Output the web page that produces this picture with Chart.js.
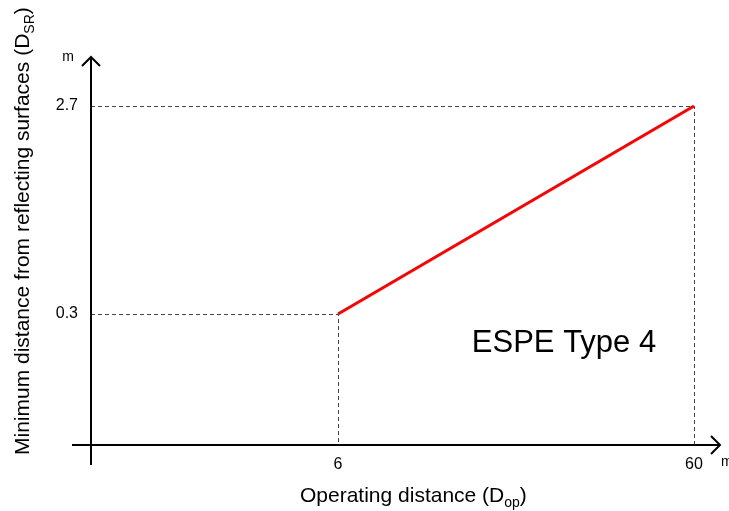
<!DOCTYPE html>
<html lang="en">
<head>
    <meta charset="UTF-8" />
    <title>ESPE Type 4 - minimum distance from reflecting surfaces</title>
    <script src="https://cdn.jsdelivr.net/npm/chart.js"></script>
    <style>
        html, body { margin: 0; padding: 0; background: #fff; }
        #wrap { width: 729px; height: 511px; position: relative; }
    </style>
</head>
<body>
    <div id="wrap"><canvas id="chart"></canvas></div>

    <script>
        // Chart data
        const opDistance = [6, 60];        // operating distance D_op (m)
        const minDistance = [0.3, 2.7];    // min. distance from reflecting surfaces D_SR (m)
        const xTickValues = [6, 60];
        const yTickValues = [0.3, 2.7];
        const curveLabel = 'ESPE Type 4';

        // The drawing is schematic (not to scale): each axis is piecewise linear.
        // [value, fraction of axis length]
        const xStops = [[0, 0], [6, 0.3927], [60, 0.9587], [64, 1]];
        const yStops = [[0, 0], [0.3, 0.3376], [2.7, 0.8737], [3, 1]];

        function toFrac(v, stops) {
            for (let i = 1; i < stops.length; i++) {
                const [v0, f0] = stops[i - 1], [v1, f1] = stops[i];
                if (v <= v1 || i === stops.length - 1) return f0 + (v - v0) / (v1 - v0) * (f1 - f0);
            }
        }
        function fromFrac(f, stops) {
            for (let i = 1; i < stops.length; i++) {
                const [v0, f0] = stops[i - 1], [v1, f1] = stops[i];
                if (f <= f1 || i === stops.length - 1) return v0 + (f - f0) / (f1 - f0) * (v1 - v0);
            }
        }
        const stopsFor = { x: xStops, y: yStops };

        class SchematicScale extends Chart.LinearScale {
            getPixelForValue(v) {
                return v === null ? NaN : this.getPixelForDecimal(toFrac(v, stopsFor[this.id]));
            }
            getValueForPixel(p) {
                return fromFrac(this.getDecimalForPixel(p), stopsFor[this.id]);
            }
        }
        SchematicScale.id = 'schematic';
        SchematicScale.defaults = Chart.LinearScale.defaults;
        Chart.register(SchematicScale);

        const FONT = '"Liberation Sans", Arial, sans-serif';

        // text with a subscript part, e.g. D + "op"
        function subText(ctx, parts, size) {
            let w = 0;
            parts.forEach(([t, sub]) => {
                ctx.font = (sub ? Math.round(size * 0.68) : size) + 'px ' + FONT;
                w += ctx.measureText(t).width;
            });
            return w;
        }
        function drawSub(ctx, parts, size, x, y) {
            let cx = x;
            parts.forEach(([t, sub]) => {
                ctx.font = (sub ? Math.round(size * 0.68) : size) + 'px ' + FONT;
                ctx.fillText(t, cx, sub ? y + size * 0.22 : y);
                cx += ctx.measureText(t).width;
            });
        }

        function arrow(ctx, x, y, dir) {
            ctx.beginPath();
            if (dir === 'up') {
                ctx.moveTo(x - 9, y + 9); ctx.lineTo(x, y); ctx.lineTo(x + 9, y + 9);
            } else {
                ctx.moveTo(x - 9, y - 9); ctx.lineTo(x, y); ctx.lineTo(x - 9, y + 9);
            }
            ctx.stroke();
        }

        const diagramPlugin = {
            id: 'diagram',
            beforeDatasetsDraw(chart) {
                const { ctx, chartArea: a, scales: { x, y } } = chart;
                const x0 = x.getPixelForValue(0), y0 = y.getPixelForValue(0);
                ctx.save();
                // dashed guides from every point to both axes
                ctx.strokeStyle = '#444';
                ctx.lineWidth = 1;
                ctx.setLineDash([4, 3]);
                opDistance.forEach((v, i) => {
                    const px = Math.round(x.getPixelForValue(v)) + 0.5;
                    const py = Math.round(y.getPixelForValue(minDistance[i])) + 0.5;
                    ctx.beginPath();
                    ctx.moveTo(x0, py); ctx.lineTo(px, py); ctx.lineTo(px, y0);
                    ctx.stroke();
                });
                ctx.setLineDash([]);
                // axes with open arrow heads
                ctx.strokeStyle = '#000';
                ctx.lineWidth = 2;
                ctx.beginPath();
                ctx.moveTo(x0 - 19, y0); ctx.lineTo(a.right, y0);
                ctx.moveTo(x0, y0 + 20); ctx.lineTo(x0, a.top);
                ctx.stroke();
                arrow(ctx, x0, a.top, 'up');
                arrow(ctx, a.right, y0, 'right');
                ctx.restore();
            },
            afterDraw(chart) {
                const { ctx, chartArea: a, scales: { x, y } } = chart;
                const x0 = x.getPixelForValue(0), y0 = y.getPixelForValue(0);
                ctx.save();
                ctx.fillStyle = '#000';
                ctx.textBaseline = 'alphabetic';
                // units
                ctx.font = '14px ' + FONT;
                ctx.textAlign = 'center';
                ctx.fillText('m', x0 - 23, a.top + 4);
                ctx.textAlign = 'left';
                ctx.fillText('m', a.right + 1, y0 + 21);
                // x title
                const xParts = [['Operating distance (D', false], ['op', true], [')', false]];
                const xw = subText(ctx, xParts, 21);
                drawSub(ctx, xParts, 21, 300, 502);
                // y title, rotated
                const yParts = [['Minimum distance from reflecting surfaces (D', false], ['SR', true], [')', false]];
                ctx.translate(29, 455);
                ctx.rotate(-Math.PI / 2);
                drawSub(ctx, yParts, 21, 0, 0);
                ctx.restore();
                // curve label
                ctx.save();
                ctx.font = '31px ' + FONT;
                ctx.textAlign = 'center';
                ctx.fillStyle = '#000';
                ctx.fillText(curveLabel, 564, 352);
                ctx.restore();
            }
        };

        new Chart(document.getElementById('chart'), {
            type: 'line',
            data: {
                datasets: [{
                    label: curveLabel,
                    data: opDistance.map((v, i) => ({ x: v, y: minDistance[i] })),
                    borderColor: '#ff0000',
                    borderWidth: 3,
                    pointRadius: 0,
                    fill: false,
                    tension: 0
                }]
            },
            options: {
                responsive: true,
                maintainAspectRatio: false,
                animation: false,
                layout: { padding: { left: 0, right: 9, top: 57, bottom: 0 } },
                plugins: { legend: { display: false }, tooltip: { enabled: false } },
                scales: {
                    x: {
                        type: 'schematic',
                        min: 0, max: 64,
                        grid: { display: false, drawTicks: false },
                        border: { display: false },
                        afterBuildTicks: s => { s.ticks = xTickValues.map(v => ({ value: v })); },
                        afterFit: s => { s.height = 66; },
                        ticks: {
                            padding: 10,
                            color: '#000',
                            autoSkip: false,
                            maxRotation: 0,
                            font: { family: FONT, size: 16 },
                            callback: v => String(v)
                        }
                    },
                    y: {
                        type: 'schematic',
                        min: 0, max: 3,
                        grid: { display: false, drawTicks: false },
                        border: { display: false },
                        afterBuildTicks: s => { s.ticks = yTickValues.map(v => ({ value: v })); },
                        afterFit: s => { s.width = 91; },
                        ticks: {
                            padding: 13,
                            color: '#000',
                            autoSkip: false,
                            font: { family: FONT, size: 16 },
                            callback: v => String(v)
                        }
                    }
                }
            },
            plugins: [diagramPlugin]
        });
    </script>
</body>
</html>
